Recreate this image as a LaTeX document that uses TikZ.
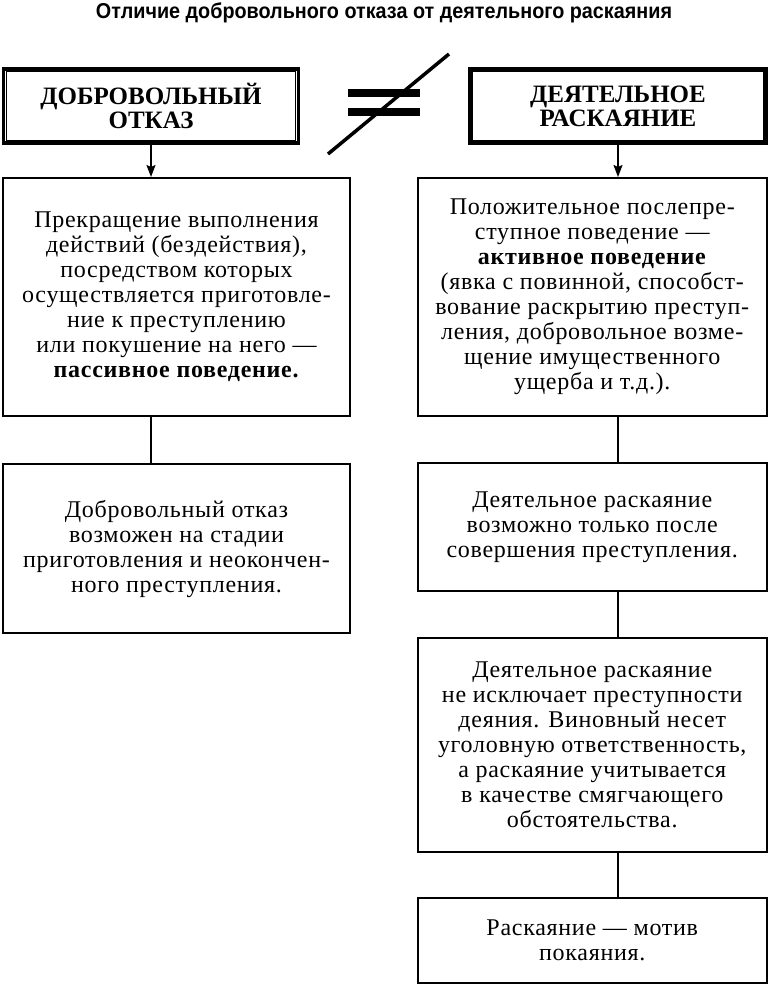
\documentclass[tikz,border=0pt]{standalone}
\usepackage{fontspec}
\setmainfont{Liberation Serif}
\newfontfamily\boxfont[LetterSpace=3]{Liberation Serif}
\newfontfamily\titlefont[FakeStretch=0.92]{Liberation Sans}
\usetikzlibrary{arrows.meta}

\begin{document}
\begin{tikzpicture}[x=1pt, y=-1pt, line width=2pt,
		kasten/.style={draw, line width=2pt, align=center, inner sep=0pt,
			font=\boxfont\fontsize{24}{25}\selectfont},
		kopf/.style={draw, line width=3.2pt, align=center, inner sep=0pt,
			font=\bfseries\fontsize{25}{24}\selectfont},
		pfeil/.style={line width=1.5pt, -{Stealth[length=12pt,width=9pt,inset=2pt]}},
		linie/.style={line width=1.5pt}]
		
		\useasboundingbox (0,0) rectangle (768,984);
		
		% ----- Ueberschrift -----
		\node[anchor=base, font=\titlefont\bfseries\fontsize{21.5}{21.5}\selectfont] (titel) at (384,18.5)
			{Отличие добровольного отказа от деятельного раскаяния};
		
		% ----- Koepfe -----
		\node[kopf, minimum width=295.5pt, minimum height=74pt] (lh) at (151,106)
			{ДОБРОВОЛЬНЫЙ\\ОТКАЗ};
		\node[kopf, minimum width=296pt, minimum height=74pt] (rh) at (618,106)
			{ДЕЯТЕЛЬНОЕ\\РАСКАЯНИЕ};
		
		% innere Rahmen
		\draw[line width=1pt] ([shift={(4.5pt,-4.5pt)}]lh.north west) rectangle ([shift={(-4.5pt,4.5pt)}]lh.south east);
		\draw[line width=1pt] ([shift={(4.5pt,-4.5pt)}]rh.north west) rectangle ([shift={(-4.5pt,4.5pt)}]rh.south east);
		
		% Ungleich-Zeichen
		\fill (348,89) rectangle (420,97.5);
		\fill (348,108) rectangle (420,116.5);
		\draw[line width=3.5pt] (328,154) -- (449,54);
		
		% ----- Linke Spalte -----
		\node[kasten, minimum width=347pt, minimum height=238pt] (l1) at (176.5,297)
			{Прекращение выполнения\\
			 действий (бездействия),\\
			 посредством которых\\
			 осуществляется приготовле-\\
			 ние к преступлению\\
			 или покушение на него —\\
			 \textbf{пассивное поведение.}};
		\node[kasten, minimum width=347pt, minimum height=169pt] (l2) at (176.5,548.5)
			{Добровольный отказ\\
			 возможен на стадии\\
			 приготовления и неокончен-\\
			 ного преступления.};
		
		% ----- Rechte Spalte -----
		\node[kasten, minimum width=348.5pt, minimum height=238pt] (r1) at (592.25,297)
			{Положительное послепре-\\
			 ступное поведение —\\
			 \textbf{активное поведение}\\
			 (явка с повинной, способст-\\
			 вование раскрытию преступ-\\
			 ления, добровольное возме-\\
			 щение имущественного\\
			 ущерба и т.д.).};
		\node[kasten, minimum width=348.5pt, minimum height=128pt] (r2) at (592.25,527)
			{Деятельное раскаяние\\
			 возможно только после\\
			 совершения преступления.};
		\node[kasten, minimum width=348.5pt, minimum height=214pt] (r3) at (592.25,745)
			{Деятельное раскаяние\\
			 не исключает преступности\\
			 деяния. Виновный несет\\
			 уголовную ответственность,\\
			 а раскаяние учитывается\\
			 в качестве смягчающего\\
			 обстоятельства.};
		\node[kasten, minimum width=348.5pt, minimum height=84.5pt] (r4) at (592.25,940.25)
			{Раскаяние — мотив\\
			 покаяния.};
		
		% ----- Verbindungen -----
		\draw[pfeil] (lh.south) -- (lh |- l1.north);
		\draw[pfeil] (rh.south) -- (rh |- r1.north);
		\draw[linie] (lh |- l1.south) -- (lh |- l2.north);
		\draw[linie] (rh |- r1.south) -- (rh |- r2.north);
		\draw[linie] (rh |- r2.south) -- (rh |- r3.north);
		\draw[linie] (rh |- r3.south) -- (rh |- r4.north);
		
	\end{tikzpicture}
\end{document}
